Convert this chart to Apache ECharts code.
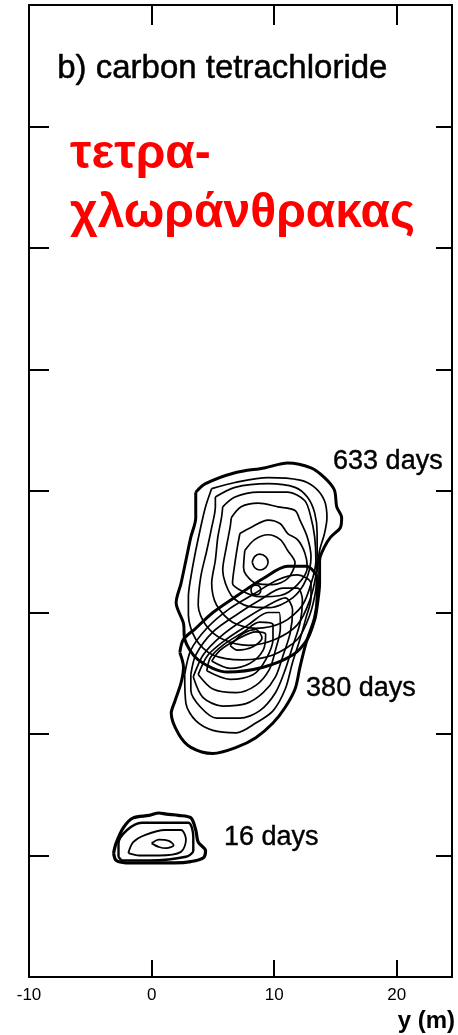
<!DOCTYPE html>
<html><head><meta charset="utf-8">
<script src="https://cdn.jsdelivr.net/npm/echarts@6/dist/echarts.min.js"></script>
<style>html,body{margin:0;padding:0;background:#fff}#c{width:458px;height:1035px}</style>
</head><body><div id="c"></div>
<script>
// ---- axes (m) ----
const xRange = [-10, 24.5];
const yRange = [0, 80];
const xTickStep = 10;
const yTickStep = 10;

// ---- labels ----
const titleText = 'b) carbon tetrachloride';
const greekLines = ['τετρα-', 'χλωράνθρακας'];
const xAxisName = 'y (m)';
const dayLabels = ['633 days', '380 days', '16 days'];
const dayLabelX = [14.8, 12.6, 5.9];
const dayLabelY = [42.4, 23.7, 11.5];

// ---- contour rings [y(m) across, x(m) along] ----
const plume633 = [
  [[3.6,39.9],[4.4,40.6],[6.8,41.5],[9.2,41.9],[11.1,42.3],[13.0,41.9],[14.1,41.1],[14.9,40.1],[15.1,38.7],[15.5,37.8],[15.4,37.0],[14.6,36.2],[14.1,35.4],[13.7,34.3],[13.7,32.4],[13.5,30.5],[13.3,29.4],[12.7,27.8],[11.5,26.5],[9.1,25.5],[6.2,25.1],[3.8,26.1],[2.7,27.8],[2.6,29.1],[2.0,30.8],[2.4,32.4],[2.8,34.3],[3.2,36.2],[3.6,37.8],[3.6,39.2]],
  [[4.9,40.2],[6.8,40.7],[9.5,41.1],[12.1,40.9],[13.3,40.3],[14.1,39.2],[14.3,37.8],[14.1,36.5],[13.7,35.1],[13.5,33.5],[13.4,31.9],[12.9,29.8],[11.9,27.8],[9.9,26.5],[7.4,26.1],[5.0,26.5],[3.6,27.8],[3.0,29.8],[3.0,31.3],[3.2,32.9],[3.6,35.1],[4.0,37.0],[4.4,38.7]],
  [[5.2,39.5],[6.8,40.3],[9.5,40.6],[11.7,40.3],[12.7,39.5],[13.3,38.2],[13.5,36.5],[13.5,34.9],[13.4,33.1],[12.9,31.0],[11.9,29.0],[10.1,27.8],[7.9,27.3],[5.8,27.8],[4.4,29.0],[3.8,30.6],[4.0,32.9],[4.5,35.1],[4.9,37.0],[5.2,38.7]],
  [[5.8,38.7],[6.8,39.5],[8.7,39.9],[11.1,39.9],[12.5,39.2],[13.0,37.8],[13.3,36.2],[13.4,34.3],[13.1,32.7],[12.3,30.6],[10.7,29.2],[8.5,28.7],[6.6,29.2],[5.3,30.6],[4.9,32.4],[5.2,34.3],[5.4,36.2],[5.7,37.8]],
  [[6.5,37.8],[7.3,38.7],[8.7,39.0],[10.3,38.7],[11.7,38.4],[12.1,37.6],[12.7,36.2],[13.0,34.6],[12.6,32.7],[11.5,31.2],[9.6,30.4],[7.9,30.5],[6.5,31.4],[5.8,33.5],[6.1,35.4],[6.4,37.0]],
  [[7.2,36.5],[8.1,37.0],[9.5,37.6],[10.5,37.3],[11.1,36.5],[11.9,36.0],[12.5,34.9],[12.7,33.7],[11.9,32.3],[10.5,31.4],[8.8,31.3],[7.5,31.7],[6.6,32.4],[6.8,34.1],[7.0,35.4]],
  [[7.6,35.1],[8.4,36.0],[9.5,36.4],[10.5,36.0],[11.1,35.1],[11.7,34.1],[11.1,32.8],[9.9,32.3],[8.5,32.4],[7.7,33.1],[7.5,33.7]],
  [[8.2,34.15],[8.4,34.6],[8.8,34.8],[9.3,34.6],[9.5,34.15],[9.3,33.7],[8.8,33.5],[8.4,33.7]],
  [[8.1,31.85],[8.2,32.15],[8.5,32.25],[8.8,32.15],[8.9,31.85],[8.8,31.55],[8.5,31.45],[8.2,31.55]]
];
const plume380 = [
  [[2.3,26.7],[2.6,25.5],[2.4,24.2],[1.9,22.7],[1.6,21.7],[2.2,20.0],[3.2,18.9],[5.0,18.4],[6.9,18.9],[8.5,19.7],[9.9,20.9],[10.9,22.2],[11.7,23.7],[12.1,25.5],[12.6,27.5],[13.3,29.6],[13.5,31.3],[13.5,32.8],[12.6,33.8],[11.1,33.8],[9.1,32.8],[7.0,31.4],[5.0,30.0],[3.6,28.7],[2.6,27.8]],
  [[2.7,24.9],[2.8,22.5],[3.6,21.1],[5.0,20.3],[6.9,20.1],[8.5,20.9],[9.9,21.9],[10.9,23.7],[11.5,25.9],[12.1,27.8],[12.6,29.6],[13.0,31.2],[13.0,32.4],[11.9,33.1],[10.3,32.7],[8.3,31.5],[6.2,30.2],[4.5,28.7],[3.2,26.9]],
  [[3.2,24.9],[3.2,23.6],[4.0,22.2],[5.3,21.3],[7.2,21.3],[8.8,21.9],[10.1,23.4],[10.9,25.3],[11.5,27.2],[12.1,29.1],[12.3,31.0],[11.9,32.0],[10.7,32.0],[8.8,31.0],[6.9,29.8],[5.0,28.4],[3.6,26.5]],
  [[3.4,24.7],[4.2,23.0],[5.8,22.3],[7.7,22.5],[9.1,23.4],[10.1,24.7],[10.7,26.4],[11.3,28.3],[11.5,30.2],[10.9,31.2],[9.5,30.6],[7.5,29.4],[5.6,28.0],[4.2,26.5]],
  [[3.8,24.9],[5.0,23.7],[6.9,23.4],[8.5,24.0],[9.6,25.3],[10.1,26.9],[10.5,28.7],[10.4,30.0],[9.5,30.0],[7.9,29.0],[6.1,27.8],[4.6,26.5]],
  [[4.5,25.2],[6.4,24.5],[8.3,24.9],[9.3,26.1],[9.9,27.8],[9.9,29.0],[8.8,29.2],[7.5,28.4],[5.8,27.3],[4.8,26.3]],
  [[4.9,26.0],[6.4,25.4],[8.0,25.8],[9.1,26.9],[9.3,28.2],[8.5,28.4],[7.0,27.8],[5.6,26.9]],
  [[6.4,27.3],[7.5,28.3],[8.5,28.6],[9.0,27.9],[8.3,27.2],[7.0,26.9]]
];
const plume16 = [
  [[-3.1,10.2],[-2.9,11.0],[-2.3,12.3],[-1.5,13.1],[-0.2,13.3],[0.6,13.5],[1.2,13.4],[2.2,13.3],[3.2,13.1],[3.6,12.1],[3.8,11.1],[4.4,10.4],[4.2,9.8],[3.2,9.5],[1.9,9.4],[-0.2,9.4],[-2.1,9.4],[-2.9,9.6]],
  [[-2.7,9.9],[-2.7,11.0],[-2.0,12.1],[-0.8,12.7],[1.4,12.7],[3.0,12.7],[3.4,11.5],[3.4,10.4],[2.8,9.9],[-0.2,9.6],[-2.4,9.6]],
  [[-1.9,10.2],[-1.5,11.1],[-0.5,11.7],[1.1,12.1],[2.4,12.1],[2.8,11.3],[2.4,10.3],[0.6,10.0],[-1.0,10.0]],
  [[0,11.0],[0.6,11.3],[1.4,11.2],[1.8,10.85],[1.2,10.6],[0.6,10.7]]
];

const INK = '#000';
function ringSeries(ring, width) {
  return {
    type: 'line', data: ring.concat([ring[0]]), symbol: 'none', showSymbol: false,
    smooth: 0.3, silent: true, animation: false, z: 3,
    lineStyle: { color: INK, width: width }
  };
}
const series = [];
plume633.forEach((r, i) => series.push(ringSeries(r, i === 0 ? 3 : 1.7)));
plume380.forEach((r, i) => series.push(ringSeries(r, i === 0 ? 3 : 1.7)));
plume16.forEach((r, i) => series.push(ringSeries(r, i === 0 ? 3.2 : (i === 1 ? 2.4 : 1.8))));
series.push({
  type: 'scatter', symbolSize: 0, silent: true, animation: false, z: 5,
  data: dayLabels.map((n, i) => ({ name: n, value: [dayLabelX[i], dayLabelY[i]] })),
  label: { show: true, position: 'right', distance: 0, formatter: p => p.name,
    color: INK, opacity: 1, fontSize: 27, fontFamily: 'Liberation Sans',
    textBorderColor: INK, textBorderWidth: 0.4 }
});

function axisBase(extra) {
  return Object.assign({
    type: 'value', splitLine: { show: false },
    axisLine: { show: true, onZero: false, lineStyle: { color: INK, width: 2 } },
    axisTick: { show: true, inside: true, length: 18, lineStyle: { color: INK, width: 2 } },
    axisLabel: { show: false }
  }, extra);
}

const chart = echarts.init(document.getElementById('c'), null, { renderer: 'canvas' });
chart.setOption({
  animation: false,
  backgroundColor: '#fff',
  grid: { left: 29, right: 4, top: 5, bottom: 58 },
  xAxis: [
    axisBase({ position: 'bottom', min: xRange[0], max: xRange[1], interval: xTickStep,
      axisTick: { show: true, inside: true, length: 17, lineStyle: { color: INK, width: 2 } },
      axisLabel: { show: true, color: INK, fontSize: 17, fontFamily: 'Liberation Sans', margin: 10, showMaxLabel: false },
      name: xAxisName, nameLocation: 'end', nameGap: 3,
      nameTextStyle: { color: INK, fontSize: 24, fontWeight: 'bold', fontFamily: 'Liberation Sans', align: 'right', verticalAlign: 'top', padding: [32, 0, 0, 0] } }),
    axisBase({ position: 'top', min: xRange[0], max: xRange[1], interval: xTickStep,
      axisTick: { show: true, inside: true, length: 20, lineStyle: { color: INK, width: 2 } } })
  ],
  yAxis: [
    axisBase({ position: 'left', min: yRange[0], max: yRange[1], interval: yTickStep,
      axisTick: { show: true, inside: true, length: 20, lineStyle: { color: INK, width: 2 } } }),
    axisBase({ position: 'right', min: yRange[0], max: yRange[1], interval: yTickStep,
      axisTick: { show: true, inside: true, length: 16, lineStyle: { color: INK, width: 2 } } })
  ],
  graphic: [
    { type: 'text', left: 57, top: 52, silent: true,
      style: { text: titleText, fill: INK, font: '33px "Liberation Sans"', stroke: INK, lineWidth: 0.5 } },
    { type: 'text', left: 70, top: 131, silent: true,
      style: { text: greekLines[0], fill: '#ff0000', font: 'bold 48px "Liberation Sans"' } },
    { type: 'text', left: 70, top: 190, silent: true,
      style: { text: greekLines[1], fill: '#ff0000', font: 'bold 48px "Liberation Sans"' } }
  ],
  series: series
});
</script></body></html>
